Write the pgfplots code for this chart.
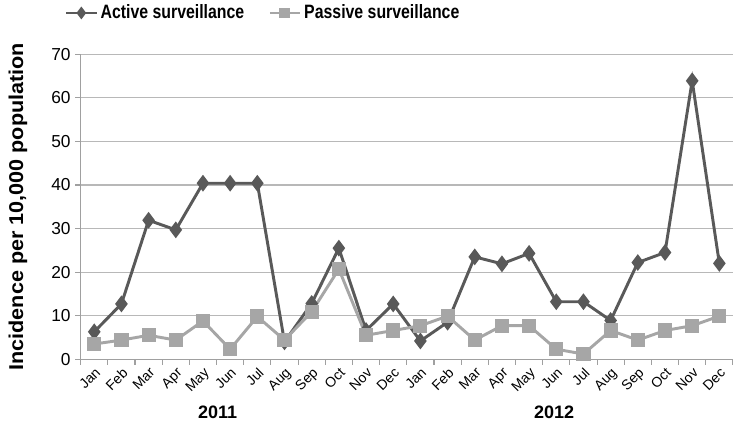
\documentclass[border=0pt]{standalone}
\usepackage{pgfplots}
\pgfplotsset{compat=1.18}
\usepackage{fontspec}
\setmainfont{Liberation Sans}
\definecolor{act}{HTML}{595959}
\definecolor{pas}{HTML}{A6A6A6}
\definecolor{gridc}{HTML}{B8B8B8}
\definecolor{axisc}{HTML}{A0A0A0}
\begin{document}
\begin{tikzpicture}
\begin{axis}[
  at={(0pt,0pt)}, anchor=south west,
  scale only axis, width=489.2pt, height=228.75pt,
  xmin=-0.5, xmax=23.5, ymin=0, ymax=70,
  ytick={0,10,...,70},
  xtick={0,...,23},
  xticklabels={Jan,Feb,Mar,Apr,May,Jun,Jul,Aug,Sep,Oct,Nov,Dec,Jan,Feb,Mar,Apr,May,Jun,Jul,Aug,Sep,Oct,Nov,Dec},
  minor xtick={-0.5,0.5,...,23.5},
  tick align=outside,
  major tick length=4pt, minor tick length=4pt,
  major x tick style={draw=none},
  minor x tick style={axisc, line width=0.8pt},
  ytick style={axisc, line width=0.8pt},
  ymajorgrids, grid style={gridc, line width=0.8pt},
  axis x line*=bottom, axis y line*=left,
  axis line style={axisc, line width=0.8pt},
  xticklabel style={rotate=45, anchor=north east, font=\fontsize{10.5}{12}\selectfont, inner sep=1pt},
  yticklabel style={font=\fontsize{13}{15}\selectfont},
  /pgf/number format/assume math mode=true,
  ylabel={\scalebox{1.08}[1]{Incidence per 10,000 population}},
  every axis y label/.style={at={(axis description cs:-0.096,0.5)}, rotate=90, anchor=center, font=\bfseries\fontsize{15}{17}\selectfont},
  clip=false,
  legend columns=2,
  legend style={at={(axis description cs:-0.031,1.18)}, anchor=north west, draw=none, fill=none,
    font=\bfseries\fontsize{14.5}{16}\selectfont, /tikz/every even column/.style={column sep=16pt}},
  legend image code/.code={\draw[mark repeat=2, mark phase=2, #1, mark size=3pt] plot coordinates {(0cm,0cm) (0.4cm,0cm) (0.8cm,0cm)};},
]
\addplot[act, line width=2.2pt, mark=diamond*, mark size=4.5pt, mark options={solid, fill=act}]
coordinates {
(0,6.3) (1,12.7) (2,31.9) (3,29.7) (4,40.4) (5,40.4) (6,40.4) (7,4.0) (8,12.8) (9,25.5) (10,6.6) (11,12.7)
(12,4.2) (13,8.5) (14,23.5) (15,21.9) (16,24.3) (17,13.2) (18,13.2) (19,8.9) (20,22.2) (21,24.5) (22,63.9) (23,22.0)
};
\addlegendentry{\scalebox{0.82}[1]{Active surveillance}}
\addplot[pas, line width=2.2pt, mark=square*, mark size=4.2pt, mark options={solid, fill=pas}]
coordinates {
(0,3.5) (1,4.4) (2,5.5) (3,4.4) (4,8.8) (5,2.3) (6,9.8) (7,4.4) (8,10.9) (9,20.7) (10,5.5) (11,6.6)
(12,7.7) (13,9.9) (14,4.4) (15,7.7) (16,7.7) (17,2.3) (18,1.2) (19,6.6) (20,4.4) (21,6.6) (22,7.7) (23,9.9)
};
\addlegendentry{\scalebox{0.82}[1]{Passive surveillance}}
\node[font=\bfseries\fontsize{13.5}{16}\selectfont] at (rel axis cs:0.21,-0.173) {2011};
\node[font=\bfseries\fontsize{13.5}{16}\selectfont] at (rel axis cs:0.726,-0.173) {2012};
\end{axis}
\pgfresetboundingbox
\path[use as bounding box] (-60.5pt,-47.8pt) rectangle (491.5pt,269.45pt);
\end{tikzpicture}
\end{document}
